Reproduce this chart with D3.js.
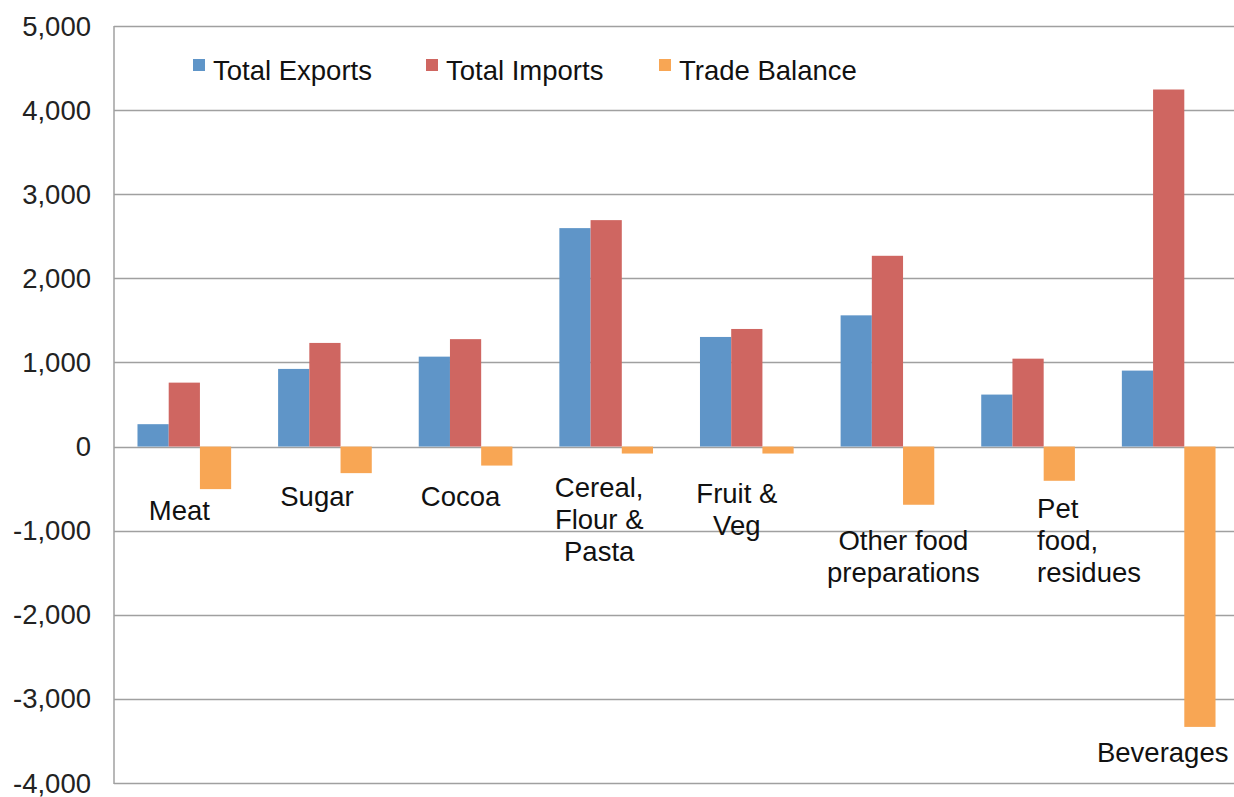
<!DOCTYPE html>
<html>
<head>
<meta charset="utf-8">
<script src="https://cdn.jsdelivr.net/npm/d3@7"></script>
<style>
  body { margin: 0; background: #fff; }
  text { font-family: "Liberation Sans", Arial, sans-serif; fill: #1a1a1a; }
</style>
</head>
<body>
<div id="vis"></div>
<script>
// data
var categories = ["Meat", "Sugar", "Cocoa", "Cereal, Flour & Pasta", "Fruit & Veg",
                  "Other food preparations", "Pet food, residues", "Beverages"];
var exportsVals = [266, 923, 1069, 2597, 1303, 1560, 618, 903];
var importsVals = [760, 1232, 1277, 2692, 1398, 2268, 1045, 4245];
var balanceVals = [-506, -316, -226, -83, -83, -692, -407, -3333];
var seriesNames = ["Total Exports", "Total Imports", "Trade Balance"];
var yTicks = [-4000, -3000, -2000, -1000, 0, 1000, 2000, 3000, 4000, 5000];

// label layout (how the labels were broken and placed in the original)
var labelLines = [["Meat"], ["Sugar"], ["Cocoa"], ["Cereal,", "Flour &", "Pasta"], ["Fruit &", "Veg"],
                  ["Other food", "preparations"], ["Pet", "food,", "residues"], ["Beverages"]];
var labelDx = [-5, -8, -5, -7, -10, 16, 9, -6];
var labelTop = [520, 506, 506, 497, 503, 550, 518, 762];
var labelAnchor = ["middle", "middle", "middle", "middle", "middle", "middle", "start", "middle"];

var colors = ["#5f95c8", "#cf6661", "#f8a654"];
var width = 1234, height = 797;
var padding = {top: 26, left: 114, bottom: 14};
var plotW = 1125;
var fontSize = "27.5px";

var svg = d3.select("#vis").append("svg")
    .attr("width", width)
    .attr("height", height);

var y = d3.scaleLinear()
    .domain([-4000, 5000])
    .range([height - padding.bottom, padding.top]);

var x = d3.scaleBand()
    .domain(categories)
    .range([padding.left, padding.left + plotW])
    .paddingInner(0.334)
    .paddingOuter(0.167);

var xs = d3.scaleBand()
    .domain(seriesNames)
    .range([0, x.bandwidth()]);

// gridlines
svg.append("g").selectAll("line")
    .data(yTicks)
    .enter().append("line")
    .attr("x1", padding.left)
    .attr("x2", padding.left + plotW)
    .attr("y1", function(d){ return Math.round(y(d)) + 0.5; })
    .attr("y2", function(d){ return Math.round(y(d)) + 0.5; })
    .attr("stroke", "#a0a0a0")
    .attr("stroke-width", 1.5);

// y axis line
svg.append("line")
    .attr("x1", padding.left).attr("x2", padding.left)
    .attr("y1", y(5000)).attr("y2", y(-4000) + 1)
    .attr("stroke", "#a0a0a0")
    .attr("stroke-width", 1.5);

// y tick labels (plain hyphen for negatives, like the original)
var fmt = d3.format(",");
svg.append("g").selectAll("text")
    .data(yTicks)
    .enter().append("text")
    .attr("x", 91)
    .attr("y", function(d){ return y(d) + 9.5; })
    .attr("text-anchor", "end")
    .style("font-size", fontSize)
    .style("fill", "#222")
    .text(function(d){ return fmt(d).replace("\u2212", "-"); });

// bars
var table = categories.map(function(c, i){
    return [exportsVals[i], importsVals[i], balanceVals[i]];
});

var groups = svg.append("g").selectAll("g")
    .data(table)
    .enter().append("g")
    .attr("transform", function(d, i){ return "translate(" + x(categories[i]) + ",0)"; });

groups.selectAll("rect")
    .data(function(d){ return d; })
    .enter().append("rect")
    .attr("x", function(d, i){ return xs(seriesNames[i]); })
    .attr("width", xs.bandwidth())
    .attr("y", function(d){ return y(Math.max(0, d)); })
    .attr("height", function(d){ return Math.abs(y(d) - y(0)); })
    .attr("fill", function(d, i){ return colors[i]; });

// category labels
var labels = svg.append("g").selectAll("text")
    .data(categories)
    .enter().append("text")
    .attr("text-anchor", function(d, i){ return labelAnchor[i]; })
    .attr("transform", function(d, i){
        var cx = x(d) + x.bandwidth() / 2 + labelDx[i];
        return "translate(" + cx + "," + labelTop[i] + ")";
    })
    .style("font-size", fontSize)
    .style("fill", "#111");

labels.selectAll("tspan")
    .data(function(d, i){ return labelLines[i]; })
    .enter().append("tspan")
    .attr("x", 0)
    .attr("dy", function(d, j){ return j == 0 ? 0 : 32; })
    .text(function(d){ return d; });

// legend
var legendX = [193, 426, 659];
var legend = svg.append("g").selectAll("g")
    .data(seriesNames)
    .enter().append("g")
    .attr("transform", function(d, i){ return "translate(" + legendX[i] + ",59)"; });

legend.append("rect")
    .attr("width", 12).attr("height", 12)
    .attr("fill", function(d, i){ return colors[i]; });

legend.append("text")
    .attr("x", 20).attr("y", 21)
    .style("font-size", fontSize)
    .style("fill", "#111")
    .text(function(d){ return d; });
</script>
</body>
</html>
